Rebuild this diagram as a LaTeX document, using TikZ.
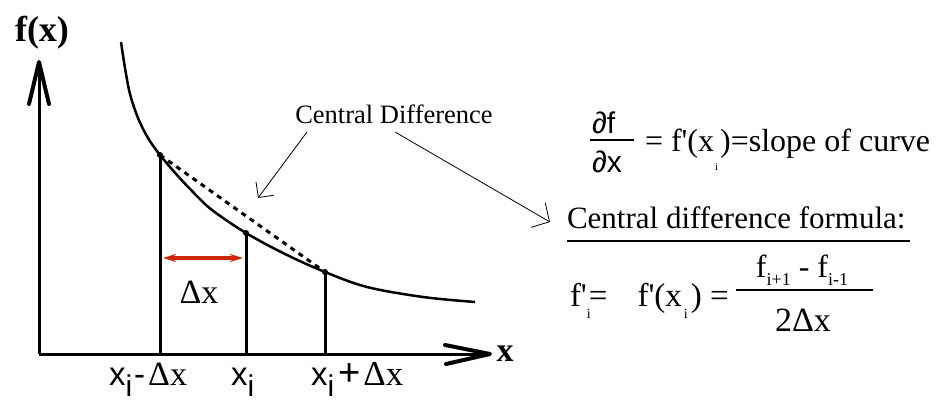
\documentclass[tikz,border=0pt]{standalone}
\usepackage{fontspec}
\setmainfont{Liberation Serif}[Ligatures=TeXOff]
\newfontfamily\sansf{Liberation Sans}
\usetikzlibrary{arrows.meta}
\newcommand\fsz[1]{\fontsize{#1}{#1}\selectfont}
\newcommand\lowi[3]{\raisebox{#1}{\fsz{#2}#3}}
\definecolor{arrred}{RGB}{205,40,10}
\begin{document}
\begin{tikzpicture}[x=1pt,y=-1pt,
  every node/.style={inner sep=0pt, outer sep=0pt},
  axis/.style={line width=3pt},
  axhead/.style={line width=4pt, line cap=round, line join=round},
  curve/.style={line width=2.5pt},
  vline/.style={line width=3pt},
  dotm/.style={circle, fill=black, minimum size=6pt, inner sep=0pt},
  callout/.style={line width=0.8pt, -{Straight Barb[length=11pt,width=22pt,line width=0.8pt]}},
  deltaarrow/.style={draw=arrred, line width=3.2pt, {Stealth[length=13pt,width=8pt]}-{Stealth[length=13pt,width=8pt]}},
]
\useasboundingbox (0,0) rectangle (939,401);
% axes
\coordinate (O) at (39,354);
\coordinate (ytip) at (39,62);
\coordinate (xtip) at (490,354);
\coordinate (yw1) at (29,104);
\coordinate (yw2) at (49,104);
\coordinate (xw1) at (445,345);
\coordinate (xw2) at (446,364);
\draw[axis] (O) -- (ytip);
\draw[axis] (O) -- (xtip);
\draw[axhead] (yw1) -- (ytip) -- (yw2);
\draw[axhead] (xw1) -- (xtip) -- (xw2);
\node[font=\bfseries\fsz{36}] (fx) at (42,33) {f(x)};
\node[font=\bfseries\fsz{34}] (xl) at (505,354) {x};
% curve
\draw[curve] plot[smooth, tension=0.55] coordinates {(121,42) (125,68) (130,94) (138,118) (148,138) (160,155) (177,175) (193,192) (212,210) (246,233) (285,254) (325,272) (367,287) (423,297) (475,302)};
% points
\node[dotm] (p1) at (160,155) {};
\node[dotm] (p2) at (246,233) {};
\node[dotm] (p3) at (325,272) {};
\coordinate (b1) at (160,354);
\coordinate (b2) at (246,354);
\coordinate (b3) at (325,354);
\draw[vline] (p1.center) -- (b1);
\draw[vline] (p2.center) -- (b2);
\draw[vline] (p3.center) -- (b3);
\draw[line width=3pt, dash pattern=on 5pt off 5pt] (p1.center) -- (p3.center);
% delta x arrow
\coordinate (d1) at (163,258);
\coordinate (d2) at (243,258);
\draw[deltaarrow] (d1) -- (d2);
\node[font=\fsz{34}] (dxl) at (199,292) {Δx};
% axis labels
\node[anchor=base west] (l1) at (109,385) {{\sansf\fsz{33}x}\lowi{-11pt}{30}{\sansf i}\hspace{2pt}{\sansf\fsz{33}-}\hspace{3pt}{\fsz{34}Δx}};
\node[anchor=base west] (l2) at (231,385) {{\sansf\fsz{33}x}\lowi{-11pt}{30}{\sansf i}};
\node[anchor=base west] (l3) at (311,385) {{\sansf\fsz{33}x}\lowi{-11pt}{30}{\sansf i}\hspace{4pt}{\sansf\fsz{38}+}\hspace{3pt}{\fsz{35}Δx}};
% central difference callout
\node[font=\fsz{26.5}] (cd) at (394,114) {Central Difference};
\coordinate (c1s) at (307,132);
\coordinate (c1e) at (258,198);
\coordinate (c2s) at (395,132);
\coordinate (c2e) at (550,222);
\draw[callout] (c1s) -- (c1e);
\draw[callout, -{Straight Barb[length=13pt,width=28pt,line width=0.8pt]}] (c2s) -- (c2e);
% derivative
\node[anchor=base west, font=\sansf\fsz{30}] (df) at (592,133) {∂f};
\node[anchor=base west, font=\sansf\fsz{30}] (dx) at (592,172) {∂x};
\coordinate (fb1) at (590,140);
\coordinate (fb2) at (634,140);
\draw[line width=1.5pt] (fb1) -- (fb2);
\node[anchor=base west, font=\fsz{32}] (slope) at (645,151) {=\hspace{8pt}f'(x\hspace{1pt}\lowi{-19pt}{11}{i}\hspace{2pt})=slope of curve};
% formula
\node[anchor=base west, font=\fsz{31}] (cdf) at (567,228) {Central difference formula:};
\coordinate (u1) at (567,241);
\coordinate (u2) at (910,241);
\draw[line width=2.5pt] (u1) -- (u2);
\node[anchor=base west, font=\fsz{33}] (fi) at (570,306) {f'\rlap{\lowi{-12pt}{14}{i}}\hspace{2pt}=\hspace{30pt}f'(x\hspace{2pt}\lowi{-12pt}{14}{i}\hspace{3pt}) =};
\node[anchor=base, font=\fsz{32}] (num) at (802,277) {f\lowi{-8pt}{18}{i+1} - f\lowi{-8pt}{18}{i-1}};
\coordinate (q1) at (736,290);
\coordinate (q2) at (873,290);
\draw[line width=1.5pt] (q1) -- (q2);
\node[anchor=base, font=\fsz{34}] (den) at (803,331) {2Δx};
\end{tikzpicture}
\end{document}
